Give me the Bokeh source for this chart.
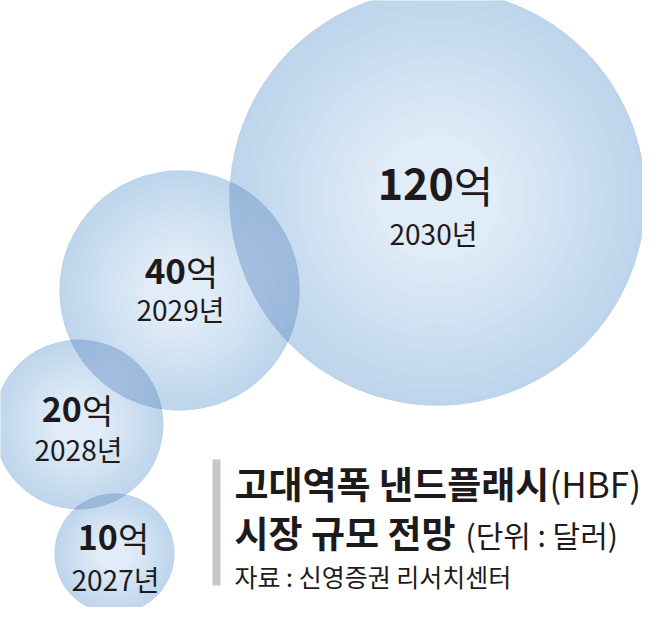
import math
from bokeh.plotting import figure
from bokeh.models import ColumnDataSource, Range1d
from bokeh.core.properties import value
from bokeh.embed import file_html
from bokeh.resources import INLINE

# ---- data ----
years = ["2027년", "2028년", "2029년", "2030년"]
amounts = [10, 20, 40, 120]          # 억 달러
amount_text = ["10", "20", "40", "120"]
unit = "억"

title_bold = "고대역폭 낸드플래시"
title_tail = "(HBF)"
subtitle_bold = "시장 규모 전망"
subtitle_unit = "(단위 : 달러)"
source_note = "자료 : 신영증권 리서치센터"

# ---- layout (bubble centres, label positions in page pixels) ----
cx = [122, 86, 187, 445]
cy = [561, 432, 298, 205]
amt_y = [545, 417, 278, 191]
amt_x = [122, 86, 190, 445]
yr_x = [123, 86, 188, 441]
yr_y = [586, 456, 316, 240]
amt_size = [34, 34, 35, 43]
yr_size = 28
K = 19.0  # radius = K * sqrt(value)  (area proportional)

FONT = value("Noto Sans CJK KR")
TXT = "#1e1a1b"
BLUE = "#5c9bd4"

p = figure(width=642, height=607, output_backend="svg", toolbar_location=None,
           x_range=Range1d(8, 650), y_range=Range1d(615, 8),
           min_border=0, outline_line_color=None, background_fill_color="white",
           border_fill_color="white")
p.axis.visible = False
p.grid.visible = False

radii = [K * math.sqrt(v) for v in amounts]
src = ColumnDataSource(dict(x=cx, y=cy, r=radii))
p.circle(x="x", y="y", radius="r", source=src, fill_color=BLUE, fill_alpha=0.19,
         line_color=None)

# radial shading: annuli stacked so edges get slightly darker
N = 12
for i in range(N):
    f = 0.3 + 0.68 * i / (N - 1)
    s = ColumnDataSource(dict(x=cx, y=cy, ri=[r * f for r in radii], ro=radii))
    p.annulus(x="x", y="y", inner_radius="ri", outer_radius="ro", source=s,
              fill_color=BLUE, fill_alpha=0.017, line_color=None)

# amount labels: bold digits + regular unit
dig_x, unit_x = [], []
for ax, t, fs in zip(amt_x, amount_text, amt_size):
    dw = len(t) * 0.56 * fs
    uw = 0.92 * fs
    start = ax - (dw + uw) / 2
    dig_x.append(start + dw)
    unit_x.append(start + dw)
p.text(x=dig_x, y=amt_y, text=amount_text, text_font=FONT, text_font_style="bold",
       text_font_size=[f"{s}px" for s in amt_size], text_align="right",
       text_baseline="middle", text_color=TXT)
p.text(x=unit_x, y=amt_y, text=[unit] * 4, text_font=FONT,
       text_font_size=[f"{s}px" for s in amt_size], text_align="left",
       text_baseline="middle", text_color=TXT)
p.text(x=yr_x, y=yr_y, text=years, text_font=FONT, text_font_size=f"{yr_size}px",
       text_align="center", text_baseline="middle", text_color=TXT)

# title block
p.quad(left=[220], right=[228], top=[467], bottom=[593], fill_color="#c8c8c8",
       line_color=None)
p.text(x=[242], y=[490], text=[title_bold], text_font=FONT, text_font_style="bold",
       text_font_size="37px", text_align="left", text_baseline="middle", text_color=TXT)
p.text(x=[557], y=[490], text=[title_tail], text_font=FONT,
       text_font_size="35px", text_align="left", text_baseline="middle", text_color=TXT)
p.text(x=[242], y=[539], text=[subtitle_bold], text_font=FONT, text_font_style="bold",
       text_font_size="37px", text_align="left", text_baseline="middle", text_color=TXT)
p.text(x=[473], y=[541], text=[subtitle_unit], text_font=FONT,
       text_font_size="30px", text_align="left", text_baseline="middle", text_color=TXT)
p.text(x=[242], y=[583], text=[source_note], text_font=FONT,
       text_font_size="25px", text_align="left", text_baseline="middle", text_color=TXT)

open("out.html", "w").write(file_html(p, INLINE))
